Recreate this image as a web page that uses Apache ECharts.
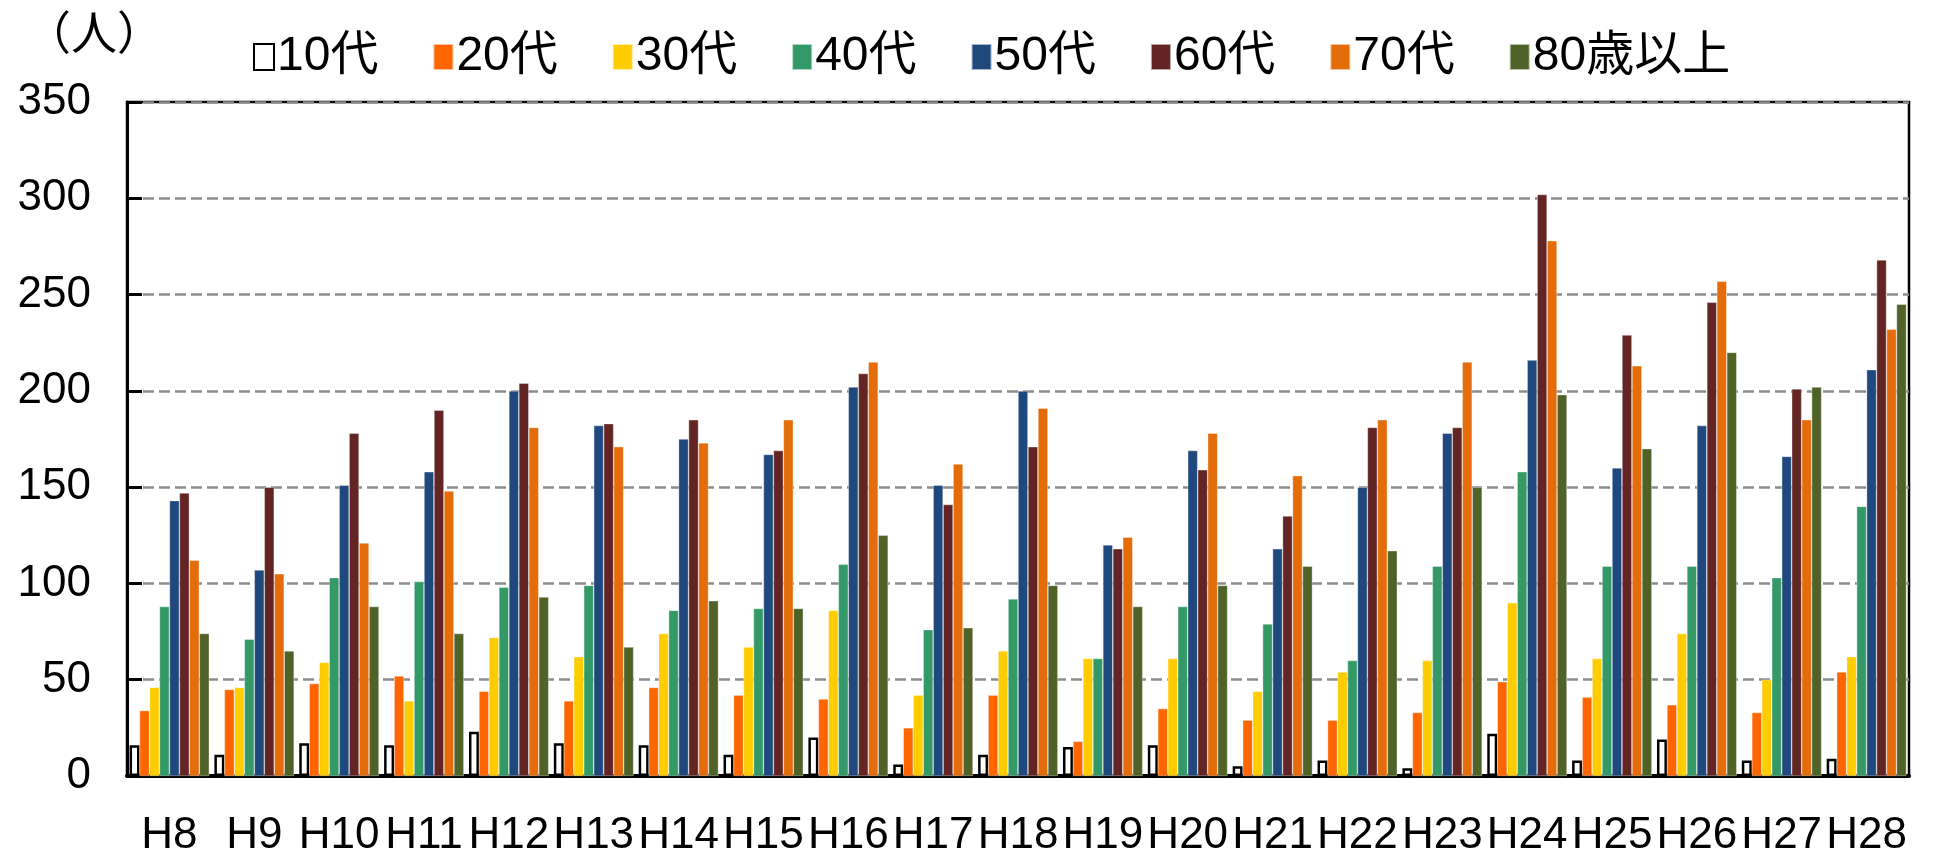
<!DOCTYPE html>
<html>
<head>
<meta charset="utf-8">
<script src="https://cdn.jsdelivr.net/npm/echarts@6/dist/echarts.min.js"></script>
<style>
html,body{margin:0;padding:0;background:#fff;}
#chart{width:1934px;height:862px;}
</style>
</head>
<body>
<div id="chart"></div>
<script>
const categories = ['H8','H9','H10','H11','H12','H13','H14','H15','H16','H17','H18','H19','H20','H21','H22','H23','H24','H25','H26','H27','H28'];
const seriesNames = ['10代','20代','30代','40代','50代','60代','70代','80歳以上'];
const age10 = [16,11,17,16,23,17,16,11,20,6,11,15,16,5,8,4,22,8,19,8,9];
const age20 = [34,45,48,52,44,39,46,42,40,25,42,18,35,29,29,33,49,41,37,33,54];
const age30 = [46,46,59,39,72,62,74,67,86,42,65,61,61,44,54,60,90,61,74,50,62];
const age40 = [88,71,103,101,98,99,86,87,110,76,92,61,88,79,60,109,158,109,109,103,140];
const age50 = [143,107,151,158,200,182,175,167,202,151,200,120,169,118,150,178,216,160,182,166,211];
const age60 = [147,150,178,190,204,183,185,169,209,141,171,118,159,135,181,181,302,229,246,201,268];
const age70 = [112,105,121,148,181,171,173,185,215,162,191,124,178,156,185,215,278,213,257,185,232];
const age80 = [74,65,88,74,93,67,91,87,125,77,99,88,99,109,117,150,198,170,220,202,245];
const yTicks = [0,50,100,150,200,250,300,350];

const values = [age10,age20,age30,age40,age50,age60,age70,age80];
const colors = ['#FFFFFF','#FF6600','#FFCC00','#339966','#1F497D','#632523','#E46C0A','#4F6228'];
const FONT = '"Liberation Sans","Noto Sans CJK JP",sans-serif';

const chart = echarts.init(document.getElementById('chart'), null, {renderer:'canvas'});
const series = seriesNames.map((name,i)=>({
  name: name,
  type: 'bar',
  data: values[i],
  barGap: '0%',
  barCategoryGap: '6%',
  itemStyle: i===0
    ? {color:'#FFFFFF', borderColor:'#000000', borderWidth:2.5}
    : {color:colors[i], borderColor:'rgba(255,255,255,0.6)', borderWidth:0.6},
  emphasis:{disabled:true}
}));

chart.setOption({
  animation:false,
  backgroundColor:'#fff',
  title:{
    text:'（人）',
    left:20, top:8,
    textStyle:{fontFamily:FONT, fontSize:46, fontWeight:'normal', color:'#000'}
  },
  legend:{
    data: seriesNames,
    left: 248, top: 28,
    icon:'rect',
    itemWidth:20, itemHeight:26,
    itemGap:54,
    textStyle:{fontFamily:FONT, fontSize:48, color:'#000', padding:[0,0,0,-2]}
  },
  grid:{
    left:127, right:25, top:102, bottom:86,
    show:true, borderColor:'#000', borderWidth:2.5, backgroundColor:'transparent'
  },
  xAxis:{
    type:'category',
    data: categories,
    axisLine:{show:true, lineStyle:{color:'#000', width:4}},
    axisTick:{show:false},
    axisLabel:{fontFamily:FONT, fontSize:44, color:'#000', margin:38, interval:0}
  },
  yAxis:{
    type:'value',
    min: yTicks[0], max: yTicks[yTicks.length-1], interval:50,
    axisLine:{show:true, lineStyle:{color:'#000', width:3}},
    axisTick:{show:true, inside:true, length:15, lineStyle:{color:'#000', width:3}},
    axisLabel:{fontFamily:FONT, fontSize:44, color:'#000', margin:36},
    splitLine:{show:true, lineStyle:{color:'#8c8c8c', width:2.5, type:[11,5]}}
  },
  series: series
});
</script>
</body>
</html>
